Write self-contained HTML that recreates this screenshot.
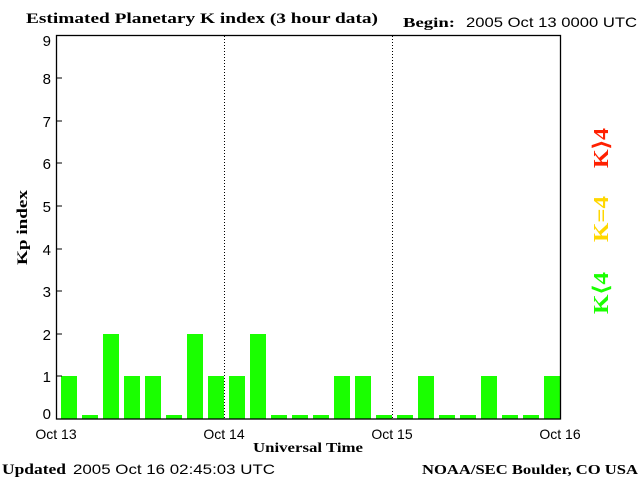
<!DOCTYPE html><html><head><style>body{margin:0;background:#fff}</style></head><body>
<svg width="640" height="480" xmlns="http://www.w3.org/2000/svg" font-family="Liberation Sans, sans-serif">
<rect width="640" height="480" fill="#fff"/>
<text x="26" y="23" font-family="Liberation Serif, serif" font-weight="bold" font-size="15" textLength="352" lengthAdjust="spacingAndGlyphs">Estimated Planetary K index (3 hour data)</text>
<text x="403" y="27" font-family="Liberation Serif, serif" font-weight="bold" font-size="14" textLength="52" lengthAdjust="spacingAndGlyphs">Begin:</text>
<text x="466" y="27" font-size="14" textLength="171" lengthAdjust="spacingAndGlyphs">2005 Oct 13 0000 UTC</text>
<g fill="#1aff00">
<rect x="61" y="376" width="16" height="43"/><rect x="82" y="415" width="16" height="4"/><rect x="103" y="334" width="16" height="85"/><rect x="124" y="376" width="16" height="43"/><rect x="145" y="376" width="16" height="43"/><rect x="166" y="415" width="16" height="4"/><rect x="187" y="334" width="16" height="85"/><rect x="208" y="376" width="16" height="43"/>
<rect x="229" y="376" width="16" height="43"/><rect x="250" y="334" width="16" height="85"/><rect x="271" y="415" width="16" height="4"/><rect x="292" y="415" width="16" height="4"/><rect x="313" y="415" width="16" height="4"/><rect x="334" y="376" width="16" height="43"/><rect x="355" y="376" width="16" height="43"/><rect x="376" y="415" width="16" height="4"/>
<rect x="397" y="415" width="16" height="4"/><rect x="418" y="376" width="16" height="43"/><rect x="439" y="415" width="16" height="4"/><rect x="460" y="415" width="16" height="4"/><rect x="481" y="376" width="16" height="43"/><rect x="502" y="415" width="16" height="4"/><rect x="523" y="415" width="16" height="4"/><rect x="544" y="376" width="16" height="43"/>
</g>
<g stroke="#000" stroke-width="1" stroke-dasharray="1,2"><line x1="224.5" y1="36" x2="224.5" y2="419"/><line x1="392.5" y1="36" x2="392.5" y2="419"/></g>
<rect x="56.5" y="35.5" width="504" height="383.5" fill="none" stroke="#000" stroke-width="1.3"/>
<g stroke="#000"><line x1="56" y1="78" x2="62" y2="78"/><line x1="56" y1="121" x2="62" y2="121"/><line x1="56" y1="163" x2="62" y2="163"/><line x1="56" y1="206" x2="62" y2="206"/><line x1="56" y1="249" x2="62" y2="249"/><line x1="56" y1="291" x2="62" y2="291"/><line x1="56" y1="334" x2="62" y2="334"/><line x1="56" y1="376" x2="62" y2="376"/></g>
<g font-size="15" text-anchor="end"><text x="51" y="46">9</text><text x="51" y="84">8</text><text x="51" y="127">7</text><text x="51" y="169">6</text><text x="51" y="212">5</text><text x="51" y="255">4</text><text x="51" y="297">3</text><text x="51" y="340">2</text><text x="51" y="382">1</text><text x="51" y="419">0</text></g>
<g font-size="14" text-anchor="middle"><text x="56" y="439">Oct 13</text><text x="224" y="439">Oct 14</text><text x="392" y="439">Oct 15</text><text x="560" y="439">Oct 16</text></g>
<text x="253" y="452" font-family="Liberation Serif, serif" font-weight="bold" font-size="14" textLength="110" lengthAdjust="spacingAndGlyphs">Universal Time</text>
<text transform="translate(27,265) rotate(-90)" font-family="Liberation Serif, serif" font-weight="bold" font-size="15" textLength="75" lengthAdjust="spacingAndGlyphs">Kp index</text>
<g font-family="Liberation Serif, serif" font-weight="bold" font-size="21">
<text transform="translate(608,168) rotate(-90)" fill="#ff2000" textLength="40" lengthAdjust="spacingAndGlyphs">K⟩4</text>
<text transform="translate(608,242) rotate(-90)" fill="#ffd700" textLength="46" lengthAdjust="spacingAndGlyphs">K=4</text>
<text transform="translate(608,314) rotate(-90)" fill="#1aff00" textLength="42" lengthAdjust="spacingAndGlyphs">K⟨4</text>
</g>
<text x="2" y="474" font-family="Liberation Serif, serif" font-weight="bold" font-size="15" textLength="64" lengthAdjust="spacingAndGlyphs">Updated</text>
<text x="73" y="474" font-size="14" textLength="202" lengthAdjust="spacingAndGlyphs">2005 Oct 16 02:45:03 UTC</text>
<text x="422" y="474" font-family="Liberation Serif, serif" font-weight="bold" font-size="14" textLength="216" lengthAdjust="spacingAndGlyphs">NOAA/SEC Boulder, CO USA</text>
</svg></body></html>
